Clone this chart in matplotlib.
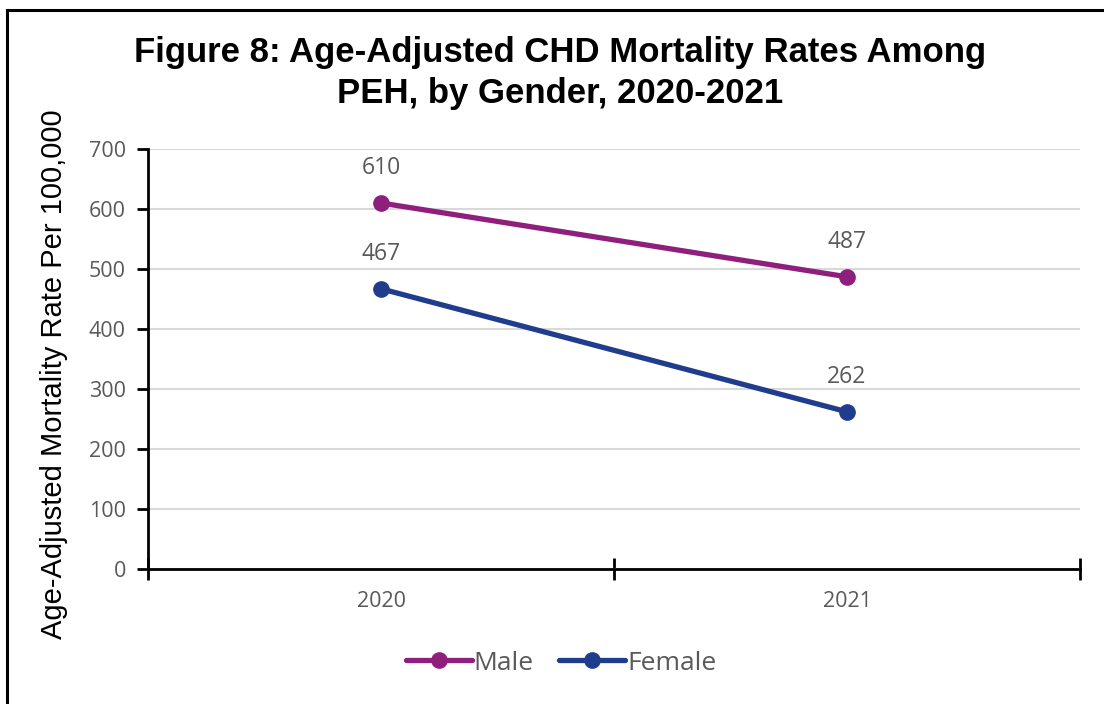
import matplotlib
matplotlib.use("Agg")
import matplotlib.pyplot as plt
from matplotlib.lines import Line2D

years = ["2020", "2021"]
male = [610, 487]
female = [467, 262]
yticks = [0, 100, 200, 300, 400, 500, 600, 700]
title = "Figure 8: Age-Adjusted CHD Mortality Rates Among\nPEH, by Gender, 2020-2021"
ylabel = "Age-Adjusted Mortality Rate Per 100,000"

male_color = "#8E1F7C"
female_color = "#203C8C"
gray = "#595959"

fig = plt.figure(figsize=(11.04, 7.04), dpi=100)
ax = fig.add_axes([148/1104, 1-569/704, (1080-148)/1104, (569-149)/704])

x = list(range(len(years)))
ax.plot(x, male, color=male_color, lw=3.8, marker="o", ms=11, label="Male", solid_capstyle="round")
ax.plot(x, female, color=female_color, lw=3.8, marker="o", ms=11, label="Female", solid_capstyle="round")

for series in (male, female):
    for xi, v in zip(x, series):
        ax.annotate(str(v), (xi, v), xytext=(0, 25), textcoords="offset points",
                    ha="center", va="center", fontsize=16.5, color=gray, family="Open Sans")

ax.set_xlim(-0.5, len(years) - 0.5)
ax.set_ylim(0, 700)
ax.set_yticks(yticks)
ax.set_xticks(x)
ax.set_xticklabels(years)
ax.set_xticks([-0.5, 0.5, 1.5], minor=True)
ax.tick_params(axis="x", which="major", length=0, pad=16, labelsize=15.5, labelcolor=gray)
ax.tick_params(axis="x", which="minor", direction="inout", length=16, width=2, color="black")
ax.tick_params(axis="y", direction="out", length=8, width=2, pad=8, labelsize=15.5, labelcolor=gray)
for lab in ax.get_xticklabels() + ax.get_yticklabels():
    lab.set_family("Open Sans")

ax.grid(axis="y", color="#D9D9D9", lw=1.5)
ax.set_axisbelow(True)
for s in ["top", "right"]:
    ax.spines[s].set_visible(False)
for s in ["left", "bottom"]:
    ax.spines[s].set_linewidth(2)
    ax.spines[s].set_color("black")

ax.set_ylabel(ylabel, fontsize=21, family="Liberation Sans")
ax.yaxis.set_label_coords((68 - 148)/932, (569 - 374)/420)

fig.text(560/1104, 1-73/704, title, ha="center", va="center", fontsize=25,
         fontweight="bold", family="Liberation Sans", linespacing=1.3)

leg = fig.legend(loc="center", bbox_to_anchor=(561/1104, 1-663/704), ncol=2, frameon=False,
                 prop={"family": "Open Sans", "size": 19}, handlelength=2.5, handletextpad=0.08,
                 columnspacing=0.95)
for t in leg.get_texts():
    t.set_color(gray)

fig.add_artist(Line2D([7/1104, 1], [1-10/704, 1-10/704], color="black", lw=2.2, transform=fig.transFigure))
fig.add_artist(Line2D([7/1104, 7/1104], [0, 1-10/704], color="black", lw=2.2, transform=fig.transFigure))

fig.savefig("out.png", dpi=100)
